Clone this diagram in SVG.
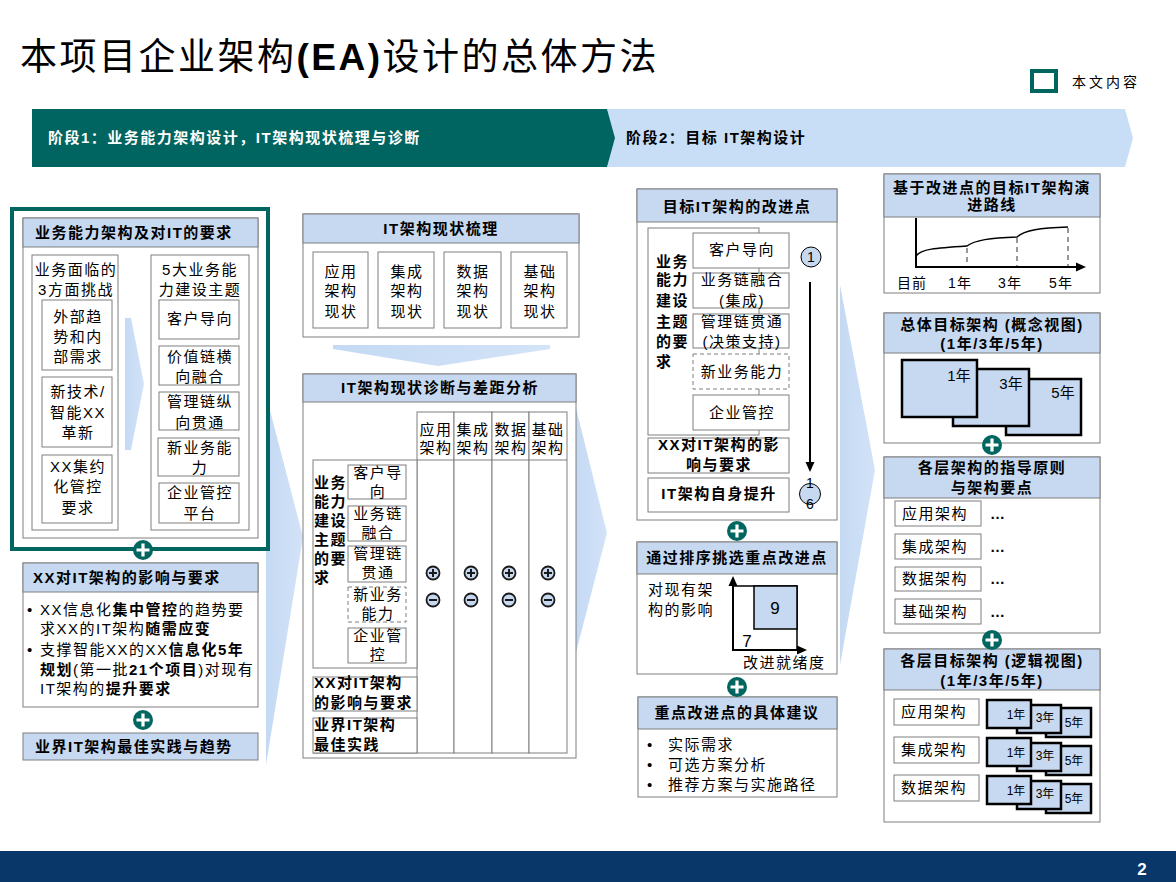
<svg xmlns="http://www.w3.org/2000/svg" width="1176" height="882" viewBox="0 0 1176 882">
<style>
.f{font-family:"Liberation Sans","Noto Sans CJK SC",sans-serif;fill:#000}
.hd{font-size:15px;font-weight:bold;letter-spacing:1.5px}
.bd{font-size:15px;letter-spacing:1.5px}
.sm{font-size:14px;letter-spacing:1px}
.c{text-anchor:middle}
.box{fill:#fff;stroke:#7f7f7f;stroke-width:1}
.hdr{fill:#c6d9f1;stroke:#7f7f7f;stroke-width:1}
.sub{fill:#fff;stroke:#7f7f7f;stroke-width:1}
.dash{fill:#fff;stroke:#7f7f7f;stroke-width:1;stroke-dasharray:4 3}
.chev{fill:url(#cg)}
.blk{fill:#c6d9f1;stroke:#000;stroke-width:2.5}
.ln{stroke:#000;fill:none;stroke-width:2}
.dl{stroke:#7f7f7f;fill:none;stroke-width:1.6;stroke-dasharray:5 4}
</style>
<defs>
<linearGradient id="cg" x1="0" y1="0" x2="1" y2="0"><stop offset="0" stop-color="#c4d9f3"/><stop offset="1" stop-color="#d3e3f8"/></linearGradient>
<g id="plus"><circle r="10" fill="#00665f"/><path d="M-6.5,0H6.5M0,-6.5V6.5" stroke="#fff" stroke-width="3.2"/></g>
<g id="pp"><circle r="6.5" fill="#c6d9f1" stroke="#1a1a1a" stroke-width="1.8"/><path d="M-4,0H4M0,-4V4" stroke="#1a1a1a" stroke-width="2"/></g>
<g id="mm"><circle r="6.5" fill="#c6d9f1" stroke="#1a1a1a" stroke-width="1.8"/><path d="M-4,0H4" stroke="#1a1a1a" stroke-width="2"/></g>
<marker id="ah" markerUnits="userSpaceOnUse" markerWidth="10" markerHeight="10" refX="1" refY="5" orient="auto"><path d="M0,0.5L10,5L0,9.5z" fill="#000"/></marker>
</defs>

<rect width="1176" height="882" fill="#fff"/>

<g id="title">
<text class="f" x="20" y="70" font-size="37" letter-spacing="2.5">本项目企业架构<tspan font-weight="bold">(EA)</tspan>设计的总体方法</text>
</g>

<g id="legend">
<rect x="1032" y="71" width="24" height="20" fill="#fff" stroke="#00665f" stroke-width="4"/>
<text class="f" x="1072" y="87" font-size="14" letter-spacing="3">本文内容</text>
</g>

<g id="stage-banner">
<polygon points="607,109 1125,109 1133,138 1125,167 607,167 615,138" fill="#c8def6"/>
<polygon points="32,109 607,109 615,138 607,167 32,167" fill="#006460"/>
<text class="f hd" x="48" y="143" style="fill:#fff">阶段1：业务能力架构设计，IT架构现状梳理与诊断</text>
<text class="f hd" x="626" y="143">阶段2：目标 IT架构设计</text>
</g>

<g id="flow-chevrons">
<polygon class="chev" points="266,395 303,537 266,765"/>
<polygon class="chev" points="574,400 607,533 574,660"/>
<polygon class="chev" points="840,285 875,470 840,665"/>
<polygon class="chev" points="333,345 550,345 550,349 438,366 333,349"/>
</g>

<g id="n-business-capability">
<rect x="12" y="209" width="256" height="340" fill="#fff" stroke="#00665f" stroke-width="4"/>
<rect class="box" x="23" y="218" width="235" height="320"/>
<rect class="hdr" x="23" y="218" width="235" height="29"/>
<text class="f hd" x="35" y="238">业务能力架构及对IT的要求</text>
<polygon class="chev" points="125,318 131,318 144,384 131,450 125,450"/>
<rect class="sub" x="32" y="255" width="86" height="275"/>
<text class="f bd c" x="76" y="275">业务面临的</text>
<text class="f bd c" x="76" y="295">3方面挑战</text>
<rect class="sub" x="42" y="300" width="70" height="70"/>
<text class="f bd c" x="78" y="322">外部趋</text>
<text class="f bd c" x="78" y="342">势和内</text>
<text class="f bd c" x="78" y="362">部需求</text>
<rect class="sub" x="42" y="377" width="70" height="70"/>
<text class="f bd c" x="78" y="397">新技术/</text>
<text class="f bd c" x="78" y="418">智能XX</text>
<text class="f bd c" x="78" y="438">革新</text>
<rect class="sub" x="42" y="455" width="70" height="68"/>
<text class="f bd c" x="78" y="472">XX集约</text>
<text class="f bd c" x="78" y="492">化管控</text>
<text class="f bd c" x="78" y="513">要求</text>
<rect class="sub" x="151" y="255" width="98" height="275"/>
<text class="f bd c" x="200" y="275">5大业务能</text>
<text class="f bd c" x="200" y="295">力建设主题</text>
<rect class="sub" x="159" y="300" width="80" height="39"/>
<text class="f bd c" x="200" y="324">客户导向</text>
<rect class="sub" x="159" y="346" width="80" height="39"/>
<text class="f bd c" x="200" y="362">价值链横</text>
<text class="f bd c" x="200" y="382">向融合</text>
<rect class="sub" x="159" y="392" width="80" height="38"/>
<text class="f bd c" x="200" y="407">管理链纵</text>
<text class="f bd c" x="200" y="428">向贯通</text>
<rect class="sub" x="158" y="438" width="81" height="38"/>
<text class="f bd c" x="200" y="453">新业务能</text>
<text class="f bd c" x="200" y="473">力</text>
<rect class="sub" x="159" y="483" width="80" height="40"/>
<text class="f bd c" x="200" y="498">企业管控</text>
<text class="f bd c" x="200" y="519">平台</text>
</g>

<g id="n-xx-impact">
<rect class="box" x="23" y="563" width="235" height="144"/>
<rect class="hdr" x="23" y="563" width="235" height="29"/>
<text class="f hd" x="33" y="583">XX对IT架构的影响与要求</text>
<text class="f bd" x="27" y="615">•</text>
<text class="f bd" x="40" y="615">XX信息化<tspan font-weight="bold">集中管控</tspan>的趋势要</text>
<text class="f bd" x="40" y="634">求XX的IT架构<tspan font-weight="bold">随需应变</tspan></text>
<text class="f bd" x="27" y="655">•</text>
<text class="f bd" x="40" y="655">支撑智能XX的XX<tspan font-weight="bold">信息化5年</tspan></text>
<text class="f bd" x="40" y="675" letter-spacing="1"><tspan font-weight="bold">规划</tspan>(第一批<tspan font-weight="bold">21个项目</tspan>)对现有</text>
<text class="f bd" x="40" y="694">IT架构的<tspan font-weight="bold">提升要求</tspan></text>
</g>

<g id="n-industry-best-practice">
<rect class="hdr" x="23" y="733" width="235" height="27"/>
<text class="f hd" x="35" y="752">业界IT架构最佳实践与趋势</text>
</g>

<g id="n-it-current-state">
<rect class="box" x="303" y="214" width="276" height="123"/>
<rect class="hdr" x="303" y="214" width="276" height="29"/>
<text class="f hd c" x="441" y="234">IT架构现状梳理</text>
<rect class="sub" x="313" y="252" width="55" height="76"/>
<rect class="sub" x="378" y="252" width="56" height="76"/>
<rect class="sub" x="444" y="252" width="57" height="76"/>
<rect class="sub" x="511" y="252" width="56" height="76"/>
<text class="f bd c" x="341" y="277">应用</text><text class="f bd c" x="341" y="296">架构</text><text class="f bd c" x="341" y="317">现状</text>
<text class="f bd c" x="407" y="277">集成</text><text class="f bd c" x="407" y="296">架构</text><text class="f bd c" x="407" y="317">现状</text>
<text class="f bd c" x="473" y="277">数据</text><text class="f bd c" x="473" y="296">架构</text><text class="f bd c" x="473" y="317">现状</text>
<text class="f bd c" x="540" y="277">基础</text><text class="f bd c" x="540" y="296">架构</text><text class="f bd c" x="540" y="317">现状</text>
</g>

<g id="n-it-gap-analysis">
<rect class="box" x="303" y="374" width="273" height="384"/>
<rect class="hdr" x="303" y="374" width="273" height="28"/>
<text class="f hd c" x="440" y="393">IT架构现状诊断与差距分析</text>
<rect class="sub" x="417" y="412" width="37" height="341"/>
<rect class="sub" x="454" y="412" width="38" height="341"/>
<rect class="sub" x="492" y="412" width="37" height="341"/>
<rect class="sub" x="529" y="412" width="38" height="341"/>
<line x1="417" y1="460" x2="567" y2="460" stroke="#7f7f7f"/>
<line x1="313" y1="753" x2="417" y2="753" stroke="#7f7f7f"/>
<text class="f bd c" x="436" y="435">应用</text><text class="f bd c" x="436" y="453">架构</text>
<text class="f bd c" x="473" y="435">集成</text><text class="f bd c" x="473" y="453">架构</text>
<text class="f bd c" x="511" y="435">数据</text><text class="f bd c" x="511" y="453">架构</text>
<text class="f bd c" x="548" y="435">基础</text><text class="f bd c" x="548" y="453">架构</text>
<rect class="sub" x="313" y="460" width="104" height="208"/>
<text class="f hd" x="314" y="488">业务</text>
<text class="f hd" x="314" y="507">能力</text>
<text class="f hd" x="314" y="526">建设</text>
<text class="f hd" x="314" y="545">主题</text>
<text class="f hd" x="314" y="564">的要</text>
<text class="f hd" x="314" y="583">求</text>
<rect class="sub" x="348" y="465" width="58" height="34"/>
<text class="f bd c" x="378" y="478">客户导</text><text class="f bd c" x="378" y="497">向</text>
<rect class="sub" x="348" y="506" width="58" height="35"/>
<text class="f bd c" x="378" y="519">业务链</text><text class="f bd c" x="378" y="538">融合</text>
<rect class="sub" x="348" y="546" width="58" height="36"/>
<text class="f bd c" x="378" y="559">管理链</text><text class="f bd c" x="378" y="578">贯通</text>
<rect class="dash" x="348" y="587" width="58" height="35"/>
<text class="f bd c" x="378" y="600">新业务</text><text class="f bd c" x="378" y="619">能力</text>
<rect class="sub" x="348" y="628" width="58" height="35"/>
<text class="f bd c" x="378" y="641">企业管</text><text class="f bd c" x="378" y="660">控</text>
<rect class="sub" x="313" y="677" width="104" height="34"/>
<text class="f hd" x="314" y="688">XX对IT架构</text>
<text class="f hd" x="314" y="708">的影响与要求</text>
<rect class="sub" x="313" y="718" width="104" height="35"/>
<text class="f hd" x="314" y="730">业界IT架构</text>
<text class="f hd" x="314" y="750">最佳实践</text>
<use href="#pp" x="433" y="573"/><use href="#mm" x="433" y="600"/>
<use href="#pp" x="471" y="573"/><use href="#mm" x="471" y="600"/>
<use href="#pp" x="509" y="573"/><use href="#mm" x="509" y="600"/>
<use href="#pp" x="548" y="573"/><use href="#mm" x="548" y="600"/>
</g>

<g id="n-target-improvements">
<rect class="box" x="637" y="189" width="200" height="331"/>
<rect class="hdr" x="637" y="189" width="200" height="33"/>
<text class="f hd c" x="737" y="212">目标IT架构的改进点</text>
<rect class="sub" x="648" y="228" width="111" height="207"/>
<text class="f hd" x="656" y="267">业务</text>
<text class="f hd" x="656" y="285">能力</text>
<text class="f hd" x="656" y="306">建设</text>
<text class="f hd" x="656" y="327">主题</text>
<text class="f hd" x="656" y="347">的要</text>
<text class="f hd" x="656" y="367">求</text>
<rect class="sub" x="693" y="233" width="96" height="35"/>
<text class="f bd c" x="742" y="255">客户导向</text>
<rect class="sub" x="693" y="273" width="96" height="35"/>
<text class="f bd c" x="742" y="285">业务链融合</text><text class="f bd c" x="742" y="306">(集成)</text>
<rect class="sub" x="693" y="314" width="96" height="34"/>
<text class="f bd c" x="742" y="327">管理链贯通</text><text class="f bd c" x="742" y="347">(决策支持)</text>
<rect class="dash" x="693" y="354" width="96" height="35"/>
<text class="f bd c" x="742" y="377">新业务能力</text>
<rect class="sub" x="693" y="395" width="96" height="35"/>
<text class="f bd c" x="742" y="418">企业管控</text>
<rect class="sub" x="648" y="438" width="141" height="35"/>
<text class="f hd c" x="719" y="450">XX对IT架构的影</text>
<text class="f hd c" x="719" y="470">响与要求</text>
<rect class="sub" x="648" y="478" width="141" height="34"/>
<text class="f hd c" x="719" y="499">IT架构自身提升</text>
<circle cx="811" cy="257" r="10" fill="#c6d9f1" stroke="#000" stroke-width="1"/>
<text class="f c" x="811" y="262" font-size="14">1</text>
<circle cx="810" cy="494" r="10.5" fill="#c6d9f1" stroke="#000" stroke-width="1"/>
<text class="f c" x="810" y="488" font-size="14">1</text>
<text class="f c" x="810" y="509" font-size="14">6</text>
</g>

<g id="n-priority-selection">
<rect class="box" x="637" y="542" width="200" height="132"/>
<rect class="hdr" x="637" y="542" width="200" height="32"/>
<text class="f hd c" x="737" y="563">通过排序挑选重点改进点</text>
<text class="f bd" x="648" y="595">对现有架</text>
<text class="f bd" x="648" y="615">构的影响</text>
<rect x="733" y="586" width="64" height="64" fill="#fff" stroke="#000" stroke-width="1.5"/>
<rect x="754" y="586" width="43" height="43" fill="#c6d9f1" stroke="#000" stroke-width="1.5"/>
<text class="f c" x="775" y="614" font-size="17">9</text>
<text class="f c" x="747" y="647" font-size="17">7</text>
<text class="f bd" x="743" y="668">改进就绪度</text>
</g>

<g id="n-key-recommendations">
<rect class="box" x="638" y="697" width="199" height="100"/>
<rect class="hdr" x="638" y="697" width="199" height="32"/>
<text class="f hd c" x="737" y="718">重点改进点的具体建议</text>
<text class="f bd" x="647" y="750">•</text><text class="f bd" x="668" y="750">实际需求</text>
<text class="f bd" x="647" y="770">•</text><text class="f bd" x="668" y="770">可选方案分析</text>
<text class="f bd" x="647" y="790">•</text><text class="f bd" x="668" y="790">推荐方案与实施路径</text>
</g>

<g id="n-evolution-roadmap">
<rect class="box" x="884" y="174" width="216" height="119"/>
<rect class="hdr" x="884" y="174" width="216" height="43"/>
<text class="f hd c" x="992" y="193">基于改进点的目标IT架构演</text>
<text class="f hd c" x="992" y="210">进路线</text>
<path class="dl" d="M967,248V266M1017,238V266M1068,228V266"/>
<path d="M916,256C921,249 935,248 967,246C975,240 990,238 1017,237C1025,230 1040,228 1068,227" fill="none" stroke="#000" stroke-width="1.5"/>
<text class="f sm" x="897" y="288">目前</text>
<text class="f sm c" x="960" y="288">1年</text>
<text class="f sm c" x="1010" y="288">3年</text>
<text class="f sm c" x="1061" y="288">5年</text>
</g>

<g id="n-overall-target">
<rect class="box" x="884" y="313" width="216" height="130"/>
<rect class="hdr" x="884" y="313" width="216" height="40"/>
<text class="f hd c" x="992" y="330">总体目标架构 (概念视图)</text>
<text class="f hd c" x="992" y="349">(1年/3年/5年)</text>
<rect class="blk" x="1006" y="379" width="75" height="56"/>
<rect class="blk" x="953" y="369" width="76" height="57"/>
<rect class="blk" x="902" y="360" width="75" height="57"/>
<text class="f c" x="959" y="381" font-size="15">1年</text>
<text class="f c" x="1011" y="389" font-size="15">3年</text>
<text class="f c" x="1063" y="398" font-size="15">5年</text>
</g>

<g id="n-layer-principles">
<rect class="box" x="884" y="457" width="216" height="176"/>
<rect class="hdr" x="884" y="457" width="216" height="41"/>
<text class="f hd c" x="992" y="473">各层架构的指导原则</text>
<text class="f hd c" x="992" y="493">与架构要点</text>
<rect class="sub" x="895" y="501" width="86" height="25"/>
<text class="f bd" x="902" y="519">应用架构</text><text class="f hd" x="990" y="519">…</text>
<rect class="sub" x="895" y="534" width="86" height="25"/>
<text class="f bd" x="902" y="552">集成架构</text><text class="f hd" x="990" y="552">…</text>
<rect class="sub" x="895" y="567" width="86" height="24"/>
<text class="f bd" x="902" y="584">数据架构</text><text class="f hd" x="990" y="584">…</text>
<rect class="sub" x="895" y="599" width="86" height="25"/>
<text class="f bd" x="902" y="617">基础架构</text><text class="f hd" x="990" y="617">…</text>
</g>

<g id="n-layer-target">
<rect class="box" x="884" y="649" width="216" height="173"/>
<rect class="hdr" x="884" y="649" width="216" height="41"/>
<text class="f hd c" x="992" y="666">各层目标架构 (逻辑视图)</text>
<text class="f hd c" x="992" y="686">(1年/3年/5年)</text>
<rect class="sub" x="894" y="699" width="85" height="26"/>
<text class="f bd" x="901" y="717">应用架构</text>
<rect class="sub" x="894" y="737" width="85" height="26"/>
<text class="f bd" x="901" y="755">集成架构</text>
<rect class="sub" x="894" y="775" width="85" height="26"/>
<text class="f bd" x="901" y="793">数据架构</text>
<g>
<rect class="blk" x="1046" y="708" width="45" height="29"/>
<rect class="blk" x="1017" y="705" width="44" height="28"/>
<rect class="blk" x="987" y="700" width="44" height="28"/>
<text class="f c" x="1016" y="719" font-size="12">1年</text>
<text class="f c" x="1045" y="722" font-size="12">3年</text>
<text class="f c" x="1074" y="727" font-size="12">5年</text>
</g>
<g transform="translate(0,38)">
<rect class="blk" x="1046" y="708" width="45" height="29"/>
<rect class="blk" x="1017" y="705" width="44" height="28"/>
<rect class="blk" x="987" y="700" width="44" height="28"/>
<text class="f c" x="1016" y="719" font-size="12">1年</text>
<text class="f c" x="1045" y="722" font-size="12">3年</text>
<text class="f c" x="1074" y="727" font-size="12">5年</text>
</g>
<g transform="translate(0,76)">
<rect class="blk" x="1046" y="708" width="45" height="29"/>
<rect class="blk" x="1017" y="705" width="44" height="28"/>
<rect class="blk" x="987" y="700" width="44" height="28"/>
<text class="f c" x="1016" y="719" font-size="12">1年</text>
<text class="f c" x="1045" y="722" font-size="12">3年</text>
<text class="f c" x="1074" y="727" font-size="12">5年</text>
</g>
</g>

<g id="connectors">
<line class="ln" x1="810" y1="282" x2="810" y2="463" stroke-width="1.5" marker-end="url(#ah)"/>
<line class="ln" x1="733" y1="650" x2="733" y2="585" marker-end="url(#ah)"/>
<line class="ln" x1="732" y1="650" x2="798" y2="650" marker-end="url(#ah)"/>
<line class="ln" x1="916" y1="218" x2="916" y2="268"/>
<line class="ln" x1="915" y1="267" x2="1077" y2="267" marker-end="url(#ah)"/>
<use href="#plus" x="143" y="550"/>
<use href="#plus" x="143" y="720"/>
<use href="#plus" x="737" y="531"/>
<use href="#plus" x="737" y="687"/>
<use href="#plus" x="992" y="445"/>
<use href="#plus" x="992" y="640"/>
</g>

<g id="footer">
<rect x="0" y="851" width="1176" height="31" fill="#09376a"/>
<text class="f c" x="1142" y="875" font-size="17" font-weight="bold" style="fill:#fff">2</text>
</g>
</svg>
